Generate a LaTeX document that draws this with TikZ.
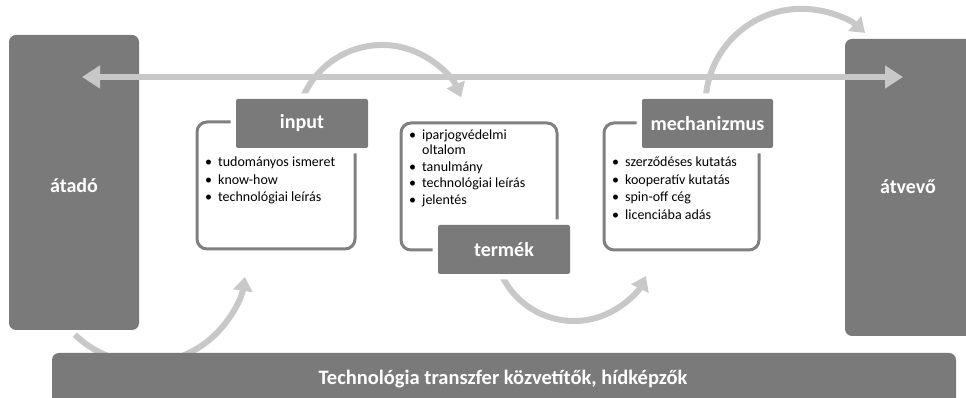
\documentclass[tikz,border=0pt]{standalone}
\usepackage{fontspec}
\setmainfont{Carlito}
\usetikzlibrary{arrows.meta}
\definecolor{boxgray}{HTML}{7A7A7A}
\definecolor{linegray}{HTML}{808080}
\definecolor{arrowgray}{HTML}{C8C8C8}
\begin{document}
\begin{tikzpicture}[x=1pt,y=1pt,
  bigbox/.style={fill=boxgray,draw=none,rounded corners=7pt},
  bigtext/.style={text=white,font=\fontsize{20}{24}\selectfont\bfseries},
  bartext/.style={text=white,font=\fontsize{20.5}{24}\selectfont\bfseries},
  outline/.style={draw=linegray,line width=3pt,rounded corners=10pt},
  labelbox/.style={fill=boxgray,rounded corners=2pt,preaction={draw=white,line width=11pt},
     text=white,font=\fontsize{20}{24}\selectfont\bfseries},
  listtext/.style={anchor=base west,inner sep=0pt,font=\fontsize{14}{17.5}\selectfont},
  flow/.style={draw=arrowgray,line width=6pt,-{Triangle[length=14pt,width=19pt]}},
  both/.style={draw=arrowgray,line width=5.5pt,{Triangle[length=18pt,width=22pt]}-{Triangle[length=18pt,width=22pt]}}
]
\useasboundingbox (0,0) rectangle (966,398);

% curved flow arrows (behind everything)
\path (145,136) ++(226:101) coordinate (a4s);
\draw[flow] (a4s) arc[start angle=226,end angle=351.5,radius=101];
\path (382,267) ++(156:86) coordinate (a1s);
\draw[flow] (a1s) arc[start angle=156,end angle=23,radius=86];
\path (574,157) ++(207.5:80) coordinate (a2s);
\draw[flow] (a2s) arc[start angle=207.5,end angle=334,radius=80];
\path (801.5,293.2) ++(175:96) coordinate (a3s);
\draw[flow] (a3s) arc[start angle=175,end angle=48.5,radius=96];

% side boxes
\path[bigbox] (9,68) rectangle (139,363);
\node[bigtext] (atado) at (74,212) {átadó};
\path[bigbox] (845,62) rectangle (980,359);
\node[bigtext] (atvevo) at (908,211) {átvevő};

% bottom bar
\path[bigbox] (52,-12) rectangle (956,45);
\node[bartext] (bar) at (503,19) {Technológia transzfer közvetítők, hídképzők};

% horizontal double arrow
\coordinate (hl) at (82,321);
\coordinate (hr) at (903,321);
\draw[both] (hl) -- (hr);

% input group
\draw[outline] (197,149) rectangle (355,276);
\node[labelbox,minimum width=132pt,minimum height=49pt] (input) at (302,274.5) {input};
\node[listtext] (inputlist) at (205,231) {\begin{tabular}[t]{@{}l@{\hspace{6pt}}l@{}}
\textbullet & tudományos ismeret\\
\textbullet & know-how\\
\textbullet & technológiai leírás
\end{tabular}};

% termek group
\draw[outline] (401,148) rectangle (557,275);
\node[labelbox,minimum width=132pt,minimum height=49pt] (termek) at (504,148.5) {termék};
\node[listtext] (termeklist) at (409,258) {\fontsize{14}{16.5}\selectfont\begin{tabular}[t]{@{}l@{\hspace{6pt}}l@{}}
\textbullet & iparjogvédelmi\\[-1.5pt]
 & oltalom\\
\textbullet & tanulmány\\
\textbullet & technológiai leírás\\
\textbullet & jelentés
\end{tabular}};

% mechanizmus group
\draw[outline] (604,148) rectangle (759,275);
\node[labelbox,minimum width=131pt,minimum height=49pt] (mech) at (707.5,274.5) {mechanizmus};
\node[listtext] (mechlist) at (612,231) {\begin{tabular}[t]{@{}l@{\hspace{6pt}}l@{}}
\textbullet & szerződéses kutatás\\
\textbullet & kooperatív kutatás\\
\textbullet & spin-off cég\\
\textbullet & licenciába adás
\end{tabular}};
\end{tikzpicture}
\end{document}
